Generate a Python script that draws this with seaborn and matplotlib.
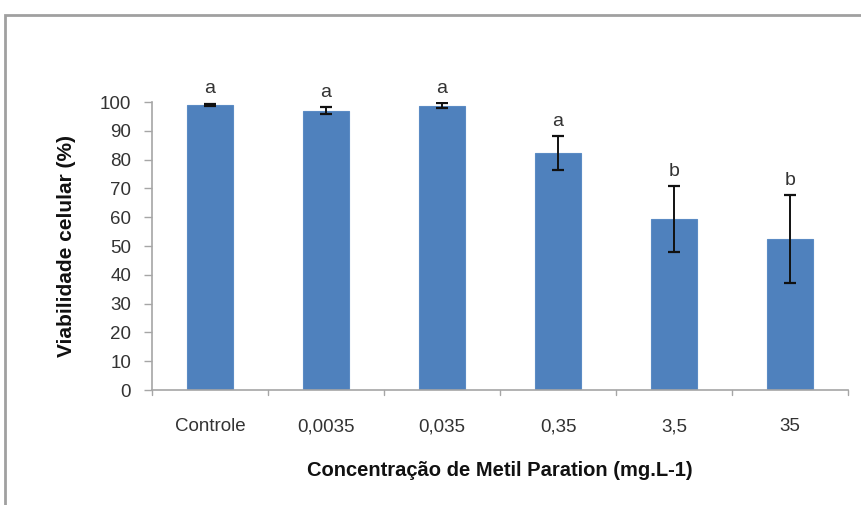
import matplotlib
matplotlib.use("Agg")
import matplotlib.pyplot as plt
import matplotlib.transforms as mtransforms
import seaborn as sns
import pandas as pd
from matplotlib.patches import Rectangle

# Cell viability per methyl parathion concentration
categories = ["Controle", "0,0035", "0,035", "0,35", "3,5", "35"]
viability = [99.0, 97.0, 98.7, 82.2, 59.3, 52.4]
std_err = [0.4, 1.2, 0.8, 5.9, 11.5, 15.3]
letters = ["a", "a", "a", "a", "b", "b"]
y_ticks = [0, 10, 20, 30, 40, 50, 60, 70, 80, 90, 100]

sns.set_style("white")
plt.rcParams["font.family"] = ["Liberation Sans", "DejaVu Sans"]

df = pd.DataFrame({"conc": categories, "viab": viability})

fig = plt.figure(figsize=(8.62, 5.05), dpi=100)
ax = fig.add_axes([0.1763, 0.2277, 0.8075, 0.5703])

sns.barplot(data=df, x="conc", y="viab", color="#4f81bd", saturation=1,
            width=0.39, edgecolor="#5b8bc4", linewidth=0.8, ax=ax, errorbar=None)

xs = range(len(categories))
ax.errorbar(xs, viability, yerr=std_err, fmt="none", ecolor="#111111",
            elinewidth=1.4, capsize=4, capthick=1.6, zorder=5)

for x, v, e, t in zip(xs, viability, std_err, letters):
    ax.text(x, v + e + 2.2, t, ha="center", va="bottom", fontsize=14,
            color="#333333", clip_on=False)

ax.set_xlim(-0.5, len(categories) - 0.5)
ax.set_ylim(0, 100)
ax.set_yticks(y_ticks)
ax.set_yticklabels([str(t) for t in y_ticks], fontsize=13.5, color="#333333")
ax.tick_params(axis="y", length=6, width=1, color="#a6a6a6", direction="out", pad=9, left=True)

# category names on a common baseline below the x axis
ax.set_xticks(xs)
ax.set_xticklabels([])
ax.tick_params(axis="x", length=0)
base = ax.get_xaxis_transform() + mtransforms.ScaledTranslation(0, -0.41, fig.dpi_scale_trans)
for x, name in zip(xs, categories):
    ax.text(x, 0, name, transform=base, ha="center", va="baseline",
            fontsize=13.5, color="#333333")

# boundary ticks between categories on the x axis
for b in [i - 0.5 for i in range(len(categories) + 1)]:
    ax.plot([b, b], [0, -1.6], color="#a6a6a6", lw=1, clip_on=False)

for side in ["top", "right"]:
    ax.spines[side].set_visible(False)
for side in ["left", "bottom"]:
    ax.spines[side].set_color("#a6a6a6")
    ax.spines[side].set_linewidth(1.2)

ax.set_ylabel("Viabilidade celular (%)", fontsize=15, fontweight="bold",
              color="#111111", labelpad=17)
ax.set_xlabel("Concentração de Metil Paration (mg.L-1)", fontsize=14.5,
              fontweight="bold", color="#111111")
ax.xaxis.label.set_verticalalignment("center")
ax.xaxis.set_label_coords(0.5, -0.278)

# chart-area frame
fig.patches.append(Rectangle((5 / 862, -0.1), 1.2, 1 - 15 / 505 + 0.1,
                             transform=fig.transFigure, fill=False,
                             edgecolor="#a0a0a0", linewidth=2))

fig.savefig("out.png", dpi=100)
